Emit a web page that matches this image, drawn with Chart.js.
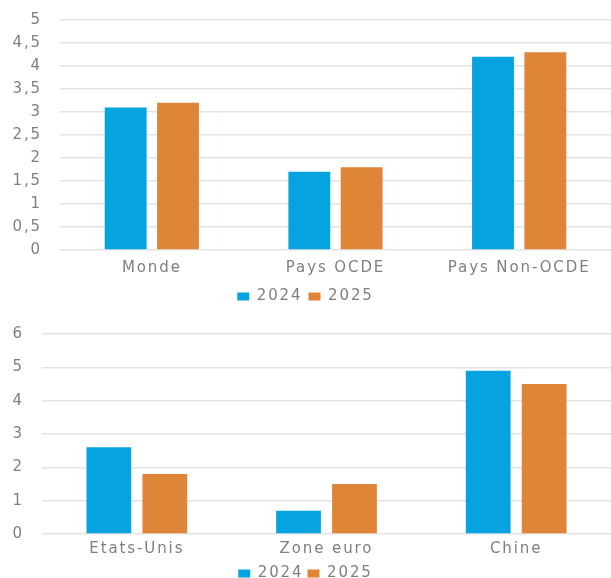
<!DOCTYPE html>
<html>
<head>
<meta charset="utf-8">
<script src="https://cdn.jsdelivr.net/npm/chart.js@4.4.1/dist/chart.umd.min.js"></script>
<style>
  html, body { margin: 0; padding: 0; background: #fff; overflow: hidden; }
  .box { position: absolute; left: 0; width: 611px; }
  #top { top: -7px; height: 321px; }
  #bottom { top: 307px; height: 284px; }
</style>
</head>
<body>
<div class="box" id="top"><canvas id="chartTop"></canvas></div>
<div class="box" id="bottom"><canvas id="chartBottom"></canvas></div>
<script>
// Top chart data
const topCategories = ['Monde', 'Pays OCDE', 'Pays Non-OCDE'];
const top2024 = [3.1, 1.7, 4.2];
const top2025 = [3.2, 1.8, 4.3];

// Bottom chart data
const bottomCategories = ['Etats-Unis', 'Zone euro', 'Chine'];
const bottom2024 = [2.6, 0.7, 4.9];
const bottom2025 = [1.8, 1.5, 4.5];

const seriesLabels = ['2024', '2025'];

const blue = '#05a3e0';
const orange = '#de8537';
const textGray = '#7f7f7f';
const fontFamily = "Verdana, 'DejaVu Sans', sans-serif";
const fontSize = 15;

Chart.defaults.color = textGray;
Chart.defaults.font.family = fontFamily;
Chart.defaults.font.size = fontSize;

// wider text, like the original
const spacing = {
    id: 'spacing',
    beforeUpdate: chart => { chart.ctx.letterSpacing = '1.9px'; },
    beforeDraw: chart => { chart.ctx.letterSpacing = '1.9px'; }
};

const makeChart = (id, labels, v24, v25, yMax, step, axisWidth, catPct, xPad, xTrim, legendPad) => {
    const ctx = document.getElementById(id).getContext('2d');
    return new Chart(ctx, {
        type: 'bar',
        plugins: [spacing],
        data: {
            labels: labels,
            datasets: [
                { label: seriesLabels[0], data: v24, backgroundColor: blue,
                  barPercentage: 0.8, categoryPercentage: catPct },
                { label: seriesLabels[1], data: v25, backgroundColor: orange,
                  barPercentage: 0.8, categoryPercentage: catPct }
            ]
        },
        options: {
            responsive: true,
            maintainAspectRatio: false,
            animation: false,
            layout: { padding: 0 },
            plugins: {
                legend: {
                    position: 'bottom',
                    labels: {
                        boxWidth: 12,
                        boxHeight: 8,
                        padding: legendPad,
                        color: textGray,
                        font: { size: fontSize, family: fontFamily }
                    }
                },
                tooltip: { enabled: false }
            },
            scales: {
                x: {
                    grid: { display: false, drawTicks: false },
                    border: { display: false },
                    ticks: { color: textGray, padding: xPad, font: { size: fontSize, family: fontFamily } },
                    afterFit: scale => { scale.height -= xTrim; }
                },
                y: {
                    min: 0,
                    max: yMax,
                    border: { display: false },
                    grid: { color: '#e4e4e4', lineWidth: 1.5, drawTicks: false },
                    ticks: {
                        stepSize: step,
                        autoSkip: false,
                        padding: 18,
                        color: textGray,
                        font: { size: fontSize, family: fontFamily },
                        callback: v => String(v).replace('.', ',')
                    },
                    afterFit: scale => { scale.width = axisWidth; }
                }
            }
        }
    });
};

makeChart('chartTop', topCategories, top2024, top2025, 5, 0.5, 60, 0.57, 9, 3, 6);
makeChart('chartBottom', bottomCategories, bottom2024, bottom2025, 6, 1, 42, 0.59, 6, 2, 4);
</script>
</body>
</html>
